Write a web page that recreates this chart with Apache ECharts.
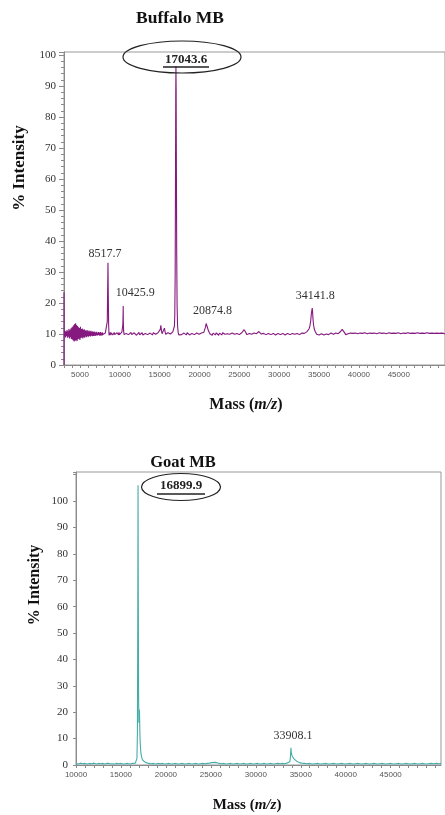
<!DOCTYPE html>
<html>
<head>
<meta charset="utf-8">
<script src="https://cdn.jsdelivr.net/npm/echarts@6/dist/echarts.min.js"></script>
<style>
    html, body { margin: 0; padding: 0; background: #fff; }
    #chart { width: 445px; height: 815px; }
</style>
</head>
<body>
<div id="chart"></div>
<script>
// Buffalo MB spectrum, [mass m/z, % intensity]
const buffaloSpectrum = [
    [3000, 0], [3000, 23.5], [3020, 10.5], [3080, 9.2], [3140, 11.0], [3200, 8.9], [3260, 10.8], [3320, 9.4],
    [3380, 11.3], [3440, 8.8], [3500, 10.9], [3560, 9.1], [3620, 11.6], [3680, 8.6], [3740, 11.2], [3800, 9.0],
    [3860, 11.8], [3920, 8.4], [3980, 12.1], [4040, 8.2], [4100, 12.4], [4160, 7.9], [4220, 12.8], [4280, 7.6],
    [4340, 13.2], [4400, 7.8], [4460, 13.5], [4520, 8.0], [4580, 12.9], [4640, 7.7], [4700, 12.6], [4760, 8.3],
    [4820, 12.2], [4880, 8.5], [4940, 11.9], [5000, 8.1], [5060, 12.3], [5120, 8.7], [5180, 11.6], [5240, 8.9],
    [5300, 11.8], [5360, 8.6], [5420, 11.4], [5480, 9.0], [5540, 11.5], [5600, 8.8], [5660, 11.2], [5720, 9.2],
    [5780, 11.0], [5840, 9.0], [5900, 11.3], [5960, 9.3], [6020, 10.9], [6080, 9.1], [6140, 11.1], [6200, 9.4],
    [6260, 10.8], [6320, 9.2], [6380, 11.0], [6440, 9.5], [6500, 10.7], [6560, 9.3], [6620, 10.9], [6680, 9.4],
    [6740, 10.6], [6800, 9.5], [6860, 10.8], [6920, 9.4], [6980, 10.5], [7040, 9.6], [7100, 10.7], [7160, 9.5],
    [7220, 10.4], [7280, 9.7], [7340, 10.6], [7400, 9.6], [7460, 10.5], [7520, 9.4], [7580, 10.6], [7640, 9.7],
    [7700, 10.4], [7760, 9.5], [7820, 10.5], [7880, 9.8], [7940, 10.3], [8000, 9.7], [8060, 10.4], [8120, 9.8],
    [8180, 10.3], [8240, 9.9], [8320, 10.2], [8380, 10.9], [8430, 14], [8475, 24], [8517.7, 33], [8555, 23],
    [8600, 13], [8650, 9.6], [8700, 10.2], [8760, 9.7], [8820, 10.5], [8880, 9.6], [8940, 10.4], [9000, 9.8],
    [9060, 10.6], [9120, 9.7], [9180, 10.3], [9240, 9.6], [9300, 10.5], [9360, 9.8], [9420, 10.4], [9480, 9.7],
    [9540, 10.2], [9600, 9.6], [9660, 10.4], [9720, 9.8], [9780, 10.3], [9840, 9.7], [9900, 10.5], [9960, 9.8],
    [10020, 10.2], [10080, 9.7], [10140, 10.4], [10200, 9.9], [10260, 10.6], [10320, 11.2], [10380, 13], [10410, 16],
    [10425.9, 19], [10445, 14], [10480, 11], [10540, 9.8], [10600, 10.3], [10660, 9.7], [10720, 10.4], [10800, 10.2],
    [10900, 9.7], [11000, 10.4], [11100, 9.8], [11200, 10.3], [11300, 9.6], [11400, 10.5], [11500, 9.8], [11600, 10.2],
    [11700, 9.7], [11800, 10.4], [11900, 9.9], [12000, 10.3], [12100, 9.6], [12200, 10.2], [12300, 9.8], [12400, 10.5],
    [12500, 9.7], [12600, 10.1], [12700, 9.8], [12800, 10.4], [12900, 9.7], [13000, 10.3], [13100, 9.9], [13200, 10.2],
    [13300, 9.6], [13400, 10.4], [13500, 9.8], [13600, 10.1], [13700, 9.7], [13800, 10.3], [13900, 9.9], [14000, 10.2],
    [14100, 9.7], [14200, 10.4], [14300, 9.8], [14400, 10.1], [14500, 9.9], [14600, 10.3], [14700, 9.8], [14800, 10.4],
    [14900, 10.0], [15000, 10.6], [15080, 11.5], [15150, 12.8], [15220, 11.2], [15300, 10.1], [15400, 9.8], [15500, 10.6],
    [15600, 11.9], [15680, 10.8], [15760, 9.9], [15850, 10.3], [15950, 9.8], [16050, 10.4], [16150, 9.9], [16250, 10.3],
    [16350, 10.0], [16450, 10.5], [16550, 10.2], [16650, 10.7], [16750, 11.2], [16850, 12.5], [16900, 16], [16950, 30],
    [16990, 60], [17020, 88], [17043.6, 96.5], [17070, 89], [17100, 64], [17140, 36], [17190, 19], [17250, 12.6],
    [17320, 10.6], [17400, 9.7], [17480, 10.2], [17550, 9.6], [17650, 10.3], [17750, 9.8], [17850, 10.2], [17950, 9.7],
    [18050, 10.3], [18150, 9.8], [18250, 10.2], [18350, 9.7], [18450, 10.4], [18550, 9.8], [18650, 10.1], [18750, 9.7],
    [18850, 10.3], [18950, 9.9], [19050, 10.2], [19150, 9.7], [19250, 10.4], [19350, 9.8], [19450, 10.2], [19550, 9.9],
    [19650, 10.3], [19750, 9.8], [19850, 10.1], [19950, 9.9], [20050, 10.2], [20150, 10.0], [20250, 10.3], [20350, 10.1],
    [20450, 10.4], [20550, 10.6], [20650, 11.1], [20750, 12.2], [20830, 13.4], [20874.8, 14.0], [20920, 13.2], [21000, 12.1],
    [21100, 11.2], [21200, 10.6], [21300, 10.1], [21400, 9.7], [21500, 10.2], [21600, 9.6], [21700, 10.3], [21800, 9.8],
    [21900, 10.1], [22000, 9.7], [22100, 10.4], [22200, 9.8], [22300, 10.2], [22400, 9.6], [22500, 10.3], [22600, 9.9],
    [22700, 10.1], [22800, 9.7], [22900, 10.4], [23000, 9.8], [23100, 10.2], [23200, 9.9], [23300, 10.3], [23400, 9.7],
    [23500, 10.1], [23600, 9.8], [23700, 10.4], [23800, 9.9], [23900, 10.2], [24000, 9.7], [24100, 10.3], [24200, 9.8],
    [24300, 10.1], [24400, 9.9], [24500, 10.3], [24600, 9.8], [24700, 10.2], [24800, 9.9], [24900, 10.4], [25000, 9.8],
    [25100, 10.2], [25200, 10.0], [25300, 10.4], [25400, 10.6], [25500, 11.0], [25600, 11.4], [25680, 11.2], [25760, 10.7],
    [25850, 10.2], [25950, 9.8], [26050, 10.3], [26150, 9.7], [26250, 10.2], [26350, 9.8], [26450, 10.3], [26550, 9.9],
    [26650, 10.1], [26750, 9.8], [26850, 10.3], [26950, 9.9], [27050, 10.2], [27150, 10.1], [27250, 10.4], [27350, 10.7],
    [27450, 10.8], [27550, 10.6], [27650, 10.3], [27750, 10.0], [27850, 10.3], [27950, 9.8], [28050, 10.2], [28150, 9.7],
    [28250, 10.3], [28350, 9.8], [28450, 10.1], [28550, 9.7], [28650, 10.2], [28750, 9.6], [28850, 10.3], [28950, 9.8],
    [29050, 10.1], [29150, 9.7], [29250, 10.2], [29350, 9.9], [29450, 10.3], [29550, 9.7], [29650, 10.1], [29750, 9.8],
    [29850, 10.2], [29950, 9.7], [30050, 10.3], [30150, 9.8], [30250, 10.1], [30350, 9.6], [30450, 10.2], [30550, 9.8],
    [30650, 10.3], [30750, 9.7], [30850, 10.1], [30950, 9.9], [31050, 10.2], [31150, 9.7], [31250, 10.3], [31350, 9.8],
    [31450, 10.1], [31550, 9.7], [31650, 10.2], [31750, 9.8], [31850, 10.3], [31950, 9.9], [32050, 10.1], [32150, 9.8],
    [32250, 10.2], [32350, 9.9], [32450, 10.3], [32550, 9.8], [32650, 10.2], [32750, 10.0], [32850, 10.3], [32950, 10.1],
    [33050, 10.4], [33150, 10.2], [33250, 10.5], [33350, 10.4], [33450, 10.7], [33550, 10.8], [33650, 11.2], [33750, 11.7],
    [33850, 12.6], [33950, 14.2], [34030, 16.5], [34141.8, 18.4], [34190, 17.0], [34240, 14.8], [34310, 12.9], [34400, 11.6],
    [34500, 10.9], [34600, 10.3], [34700, 9.9], [34800, 9.6], [34900, 10.1], [35000, 9.7], [35100, 10.2], [35200, 9.6],
    [35300, 10.1], [35400, 9.8], [35500, 10.2], [35600, 9.7], [35700, 10.3], [35800, 9.8], [35900, 10.0], [36000, 9.7],
    [36100, 10.2], [36200, 9.8], [36300, 10.1], [36400, 9.7], [36500, 10.3], [36600, 9.8], [36700, 10.1], [36800, 9.9],
    [36900, 10.2], [37000, 9.8], [37100, 10.3], [37200, 10.0], [37300, 10.2], [37400, 10.1], [37500, 10.4], [37600, 10.5],
    [37700, 10.8], [37800, 11.2], [37900, 11.5], [37980, 11.6], [38060, 11.1], [38150, 10.6], [38250, 10.1], [38350, 9.8],
    [38450, 10.2], [38550, 9.6], [38650, 10.1], [38800, 9.7], [38950, 10.3], [39100, 9.8], [39250, 10.2], [39400, 9.7],
    [39550, 10.3], [39700, 9.9], [39850, 10.1], [40000, 9.7], [40150, 10.3], [40300, 9.8], [40450, 10.2], [40600, 9.9],
    [40750, 10.4], [40900, 9.8], [41050, 10.1], [41200, 9.7], [41350, 10.3], [41500, 9.9], [41650, 10.2], [41800, 9.8],
    [41950, 10.3], [42100, 9.7], [42250, 10.1], [42400, 9.9], [42550, 10.4], [42700, 9.8], [42850, 10.2], [43000, 9.7],
    [43150, 10.3], [43300, 9.9], [43450, 10.1], [43600, 9.8], [43750, 10.4], [43900, 9.9], [44050, 10.2], [44200, 9.7],
    [44350, 10.3], [44500, 9.8], [44650, 10.2], [44800, 9.9], [44950, 10.4], [45100, 9.8], [45250, 10.1], [45400, 9.9],
    [45550, 10.3], [45700, 9.8], [45850, 10.2], [46000, 9.9], [46150, 10.4], [46300, 9.8], [46450, 10.2], [46600, 9.9],
    [46750, 10.3], [46900, 9.8], [47050, 10.2], [47200, 10.0], [47350, 10.4], [47500, 9.9], [47650, 10.2], [47800, 9.8],
    [47950, 10.3], [48100, 9.9], [48250, 10.2], [48400, 9.8], [48550, 10.4], [48700, 9.9], [48850, 10.2], [49000, 9.8],
    [49150, 10.3], [49300, 10.0], [49450, 10.2], [49600, 9.9], [49750, 10.3], [49900, 9.9], [50050, 10.2], [50200, 9.9],
    [50350, 10.3], [50500, 9.9], [50650, 10.2], [50800, 10.0]
];

// Goat MB spectrum, [mass m/z, % intensity]
const goatSpectrum = [
    [10000, 0.6], [10250, 0.4], [10500, 0.7], [10750, 0.5], [11000, 0.6], [11250, 0.4], [11500, 0.6], [11750, 0.5],
    [12000, 0.7], [12250, 0.4], [12500, 0.6], [12750, 0.5], [13000, 0.6], [13250, 0.4], [13500, 0.7], [13750, 0.5],
    [14000, 0.5], [14250, 0.4], [14500, 0.6], [14750, 0.5], [15000, 0.6], [15250, 0.4], [15500, 0.5], [15750, 0.6],
    [16000, 0.4], [16250, 0.6], [16450, 0.5], [16600, 0.7], [16700, 1.0], [16780, 2.5], [16830, 12], [16870, 55],
    [16899.9, 106], [16930, 62], [16960, 28], [16990, 16], [17020, 18], [17045, 21], [17070, 19], [17100, 13],
    [17140, 8.5], [17190, 5.6], [17250, 3.8], [17330, 2.6], [17430, 1.8], [17560, 1.3], [17720, 1.0], [17900, 0.8],
    [18100, 0.6], [18350, 0.5], [18600, 0.6], [18850, 0.4], [19100, 0.6], [19350, 0.5], [19600, 0.6], [19850, 0.4],
    [20100, 0.5], [20350, 0.6], [20600, 0.4], [20850, 0.5], [21100, 0.6], [21350, 0.4], [21600, 0.5], [21850, 0.6],
    [22100, 0.4], [22350, 0.5], [22600, 0.6], [22850, 0.4], [23100, 0.5], [23350, 0.6], [23600, 0.4], [23850, 0.5],
    [24100, 0.6], [24350, 0.5], [24600, 0.6], [24850, 0.7], [25100, 0.9], [25300, 1.1], [25500, 1.0], [25700, 0.8],
    [25950, 0.6], [26200, 0.5], [26450, 0.6], [26700, 0.4], [26950, 0.5], [27200, 0.6], [27450, 0.4], [27700, 0.5],
    [27950, 0.6], [28200, 0.4], [28450, 0.5], [28700, 0.6], [28950, 0.4], [29200, 0.5], [29450, 0.6], [29700, 0.4],
    [29950, 0.5], [30200, 0.6], [30450, 0.4], [30700, 0.5], [30950, 0.6], [31200, 0.4], [31450, 0.5], [31700, 0.6],
    [31950, 0.4], [32200, 0.5], [32450, 0.6], [32700, 0.5], [32950, 0.6], [33200, 0.5], [33450, 0.7], [33650, 0.8],
    [33780, 1.2], [33850, 2.8], [33908.1, 6.5], [33950, 4.6], [34020, 3.6], [34120, 2.9], [34250, 2.3], [34400, 1.8],
    [34600, 1.3], [34850, 0.9], [35100, 0.7], [35400, 0.6], [35700, 0.5], [36000, 0.6], [36300, 0.4], [36600, 0.5],
    [36900, 0.6], [37200, 0.4], [37500, 0.5], [37800, 0.6], [38100, 0.4], [38400, 0.5], [38700, 0.6], [39000, 0.4],
    [39300, 0.5], [39600, 0.6], [39900, 0.4], [40200, 0.5], [40500, 0.6], [40800, 0.4], [41100, 0.5], [41400, 0.6],
    [41700, 0.4], [42000, 0.5], [42300, 0.6], [42600, 0.4], [42900, 0.5], [43200, 0.6], [43500, 0.4], [43800, 0.5],
    [44100, 0.6], [44400, 0.4], [44700, 0.5], [45000, 0.6], [45300, 0.4], [45600, 0.5], [45900, 0.6], [46200, 0.4],
    [46500, 0.5], [46800, 0.6], [47100, 0.4], [47400, 0.5], [47700, 0.6], [48000, 0.4], [48300, 0.5], [48600, 0.6],
    [48900, 0.4], [49200, 0.5], [49500, 0.6], [49800, 0.5], [50100, 0.6], [50400, 0.5], [50600, 0.6]
];

// labelled peaks
const buffaloPeakMass = [8517.7, 10425.9, 20874.8, 34141.8];
const buffaloPeakHeight = [33, 19, 14, 18.4];
const goatPeakMass = [33908.1];
const goatPeakHeight = [6.5];
const buffaloMainPeak = '17043.6';
const goatMainPeak = '16899.9';

const titles = ['Buffalo MB', 'Goat MB'];
const yTicks = [0, 10, 20, 30, 40, 50, 60, 70, 80, 90, 100];

const serif = '"Liberation Serif", "DejaVu Serif", serif';
const sans = '"Liberation Sans", Arial, sans-serif';

let myChart = echarts.init(document.getElementById('chart'), null, { renderer: 'canvas' });

function xAxisCfg(gridIndex, min, max) {
    return {
        type: 'value',
        gridIndex: gridIndex,
        min: min,
        max: max,
        interval: 1000,
        axisLine: { show: true, lineStyle: { color: '#8a8a8a', width: 1 } },
        axisTick: { show: true, length: 3, lineStyle: { color: '#8a8a8a' } },
        axisLabel: {
            margin: 6,
            fontFamily: sans,
            fontSize: 8,
            color: '#555',
            showMinLabel: true,
            showMaxLabel: false,
            formatter: v => (v % 5000 === 0 && v < 50000) ? String(v) : ''
        },
        splitLine: { show: false }
    };
}

function yAxisCfg(gridIndex, max, tickLen, minor) {
    return {
        type: 'value',
        gridIndex: gridIndex,
        min: 0,
        max: max,
        interval: 10,
        axisLine: { show: true, lineStyle: { color: '#8a8a8a', width: 1 } },
        axisTick: { show: true, length: tickLen, lineStyle: { color: '#8a8a8a' } },
        minorTick: { show: minor, splitNumber: 5, length: 3, lineStyle: { color: '#8a8a8a' } },
        axisLabel: {
            margin: 8,
            fontFamily: serif,
            fontSize: 11,
            color: '#333',
            formatter: v => yTicks.indexOf(v) >= 0 ? String(v) : ''
        },
        splitLine: { show: false }
    };
}

function peakMarks(mass, height, offsets) {
    return {
        symbol: 'circle',
        symbolSize: 0,
        silent: true,
        label: {
            show: true,
            position: 'top',
            distance: 3,
            fontFamily: serif,
            fontSize: 12,
            color: '#333',
            formatter: p => p.name
        },
        data: mass.map((m, i) => ({
            name: String(m),
            coord: [m, height[i]],
            label: { offset: offsets[i] }
        }))
    };
}

// ellipse + underlined bold label of the base peak
function mainPeakNote(text, cx, cy, rx, ry, tx, ty, underY, halfW) {
    return [
        {
            type: 'ellipse',
            shape: { cx: cx, cy: cy, rx: rx, ry: ry },
            style: { fill: 'none', stroke: '#222', lineWidth: 1.2 },
            z: 100
        },
        {
            type: 'text',
            x: tx,
            y: ty,
            style: {
                text: text,
                font: 'bold 13px ' + serif,
                fill: '#222',
                align: 'center',
                verticalAlign: 'middle'
            },
            z: 100
        },
        {
            type: 'line',
            shape: { x1: tx - halfW, y1: underY, x2: tx + halfW, y2: underY },
            style: { stroke: '#222', lineWidth: 1.6 },
            z: 100
        }
    ];
}

function massName(x, y, size) {
    return {
        type: 'text',
        x: x,
        y: y,
        style: {
            text: '{b|Mass (}{i|m/z}{b|)}',
            align: 'center',
            verticalAlign: 'middle',
            rich: {
                b: { fontFamily: serif, fontWeight: 'bold', fontSize: size, fill: '#111', color: '#111' },
                i: { fontFamily: serif, fontWeight: 'bold', fontStyle: 'italic', fontSize: size, fill: '#111', color: '#111' }
            }
        }
    };
}

function intensityName(x, y, size) {
    return {
        type: 'text',
        x: x,
        y: y,
        rotation: Math.PI / 2,
        style: {
            text: '% Intensity',
            font: 'bold ' + size + 'px ' + serif,
            fill: '#111',
            align: 'center',
            verticalAlign: 'middle'
        }
    };
}

let option = {
    animation: false,
    backgroundColor: '#fff',
    title: [
        {
            text: titles[0], left: 175, top: 4, textAlign: 'center',
            textStyle: { fontFamily: serif, fontWeight: 'bold', fontSize: 17.5, color: '#111' }
        },
        {
            text: titles[1], left: 178, top: 449, textAlign: 'center',
            textStyle: { fontFamily: serif, fontWeight: 'bold', fontSize: 16.5, color: '#111' }
        }
    ],
    grid: [
        { left: 64, top: 52, width: 386, height: 313, show: true, borderColor: '#999', borderWidth: 1, containLabel: false },
        { left: 76, top: 472, width: 365, height: 293, show: true, borderColor: '#999', borderWidth: 1, containLabel: false }
    ],
    xAxis: [xAxisCfg(0, 3000, 50800), xAxisCfg(1, 10000, 50600)],
    yAxis: [yAxisCfg(0, 101, 5, true), yAxisCfg(1, 111, 3, false)],
    series: [
        {
            name: titles[0],
            type: 'line',
            xAxisIndex: 0,
            yAxisIndex: 0,
            data: buffaloSpectrum,
            showSymbol: false,
            symbol: 'none',
            lineStyle: { color: '#86197f', width: 1.1 },
            markPoint: peakMarks(buffaloPeakMass, buffaloPeakHeight, [[-3, 0], [12, -4], [6, -2], [3, -3]])
        },
        {
            name: titles[1],
            type: 'line',
            xAxisIndex: 1,
            yAxisIndex: 1,
            data: goatSpectrum,
            showSymbol: false,
            symbol: 'none',
            lineStyle: { color: '#45ada8', width: 1.1 },
            markPoint: peakMarks(goatPeakMass, goatPeakHeight, [[2, -3]])
        }
    ],
    graphic: [
        ...mainPeakNote(buffaloMainPeak, 182, 57, 59, 16, 186, 60, 67, 23),
        ...mainPeakNote(goatMainPeak, 181, 487, 39.5, 13.5, 181, 486, 494, 24),
        intensityName(20, 168, 17),
        intensityName(35, 585, 16),
        massName(246, 405, 16),
        massName(247, 805, 15)
    ]
};

myChart.setOption(option, true);
window.addEventListener('resize', () => {
    myChart.resize();
});
</script>
</body>
</html>
